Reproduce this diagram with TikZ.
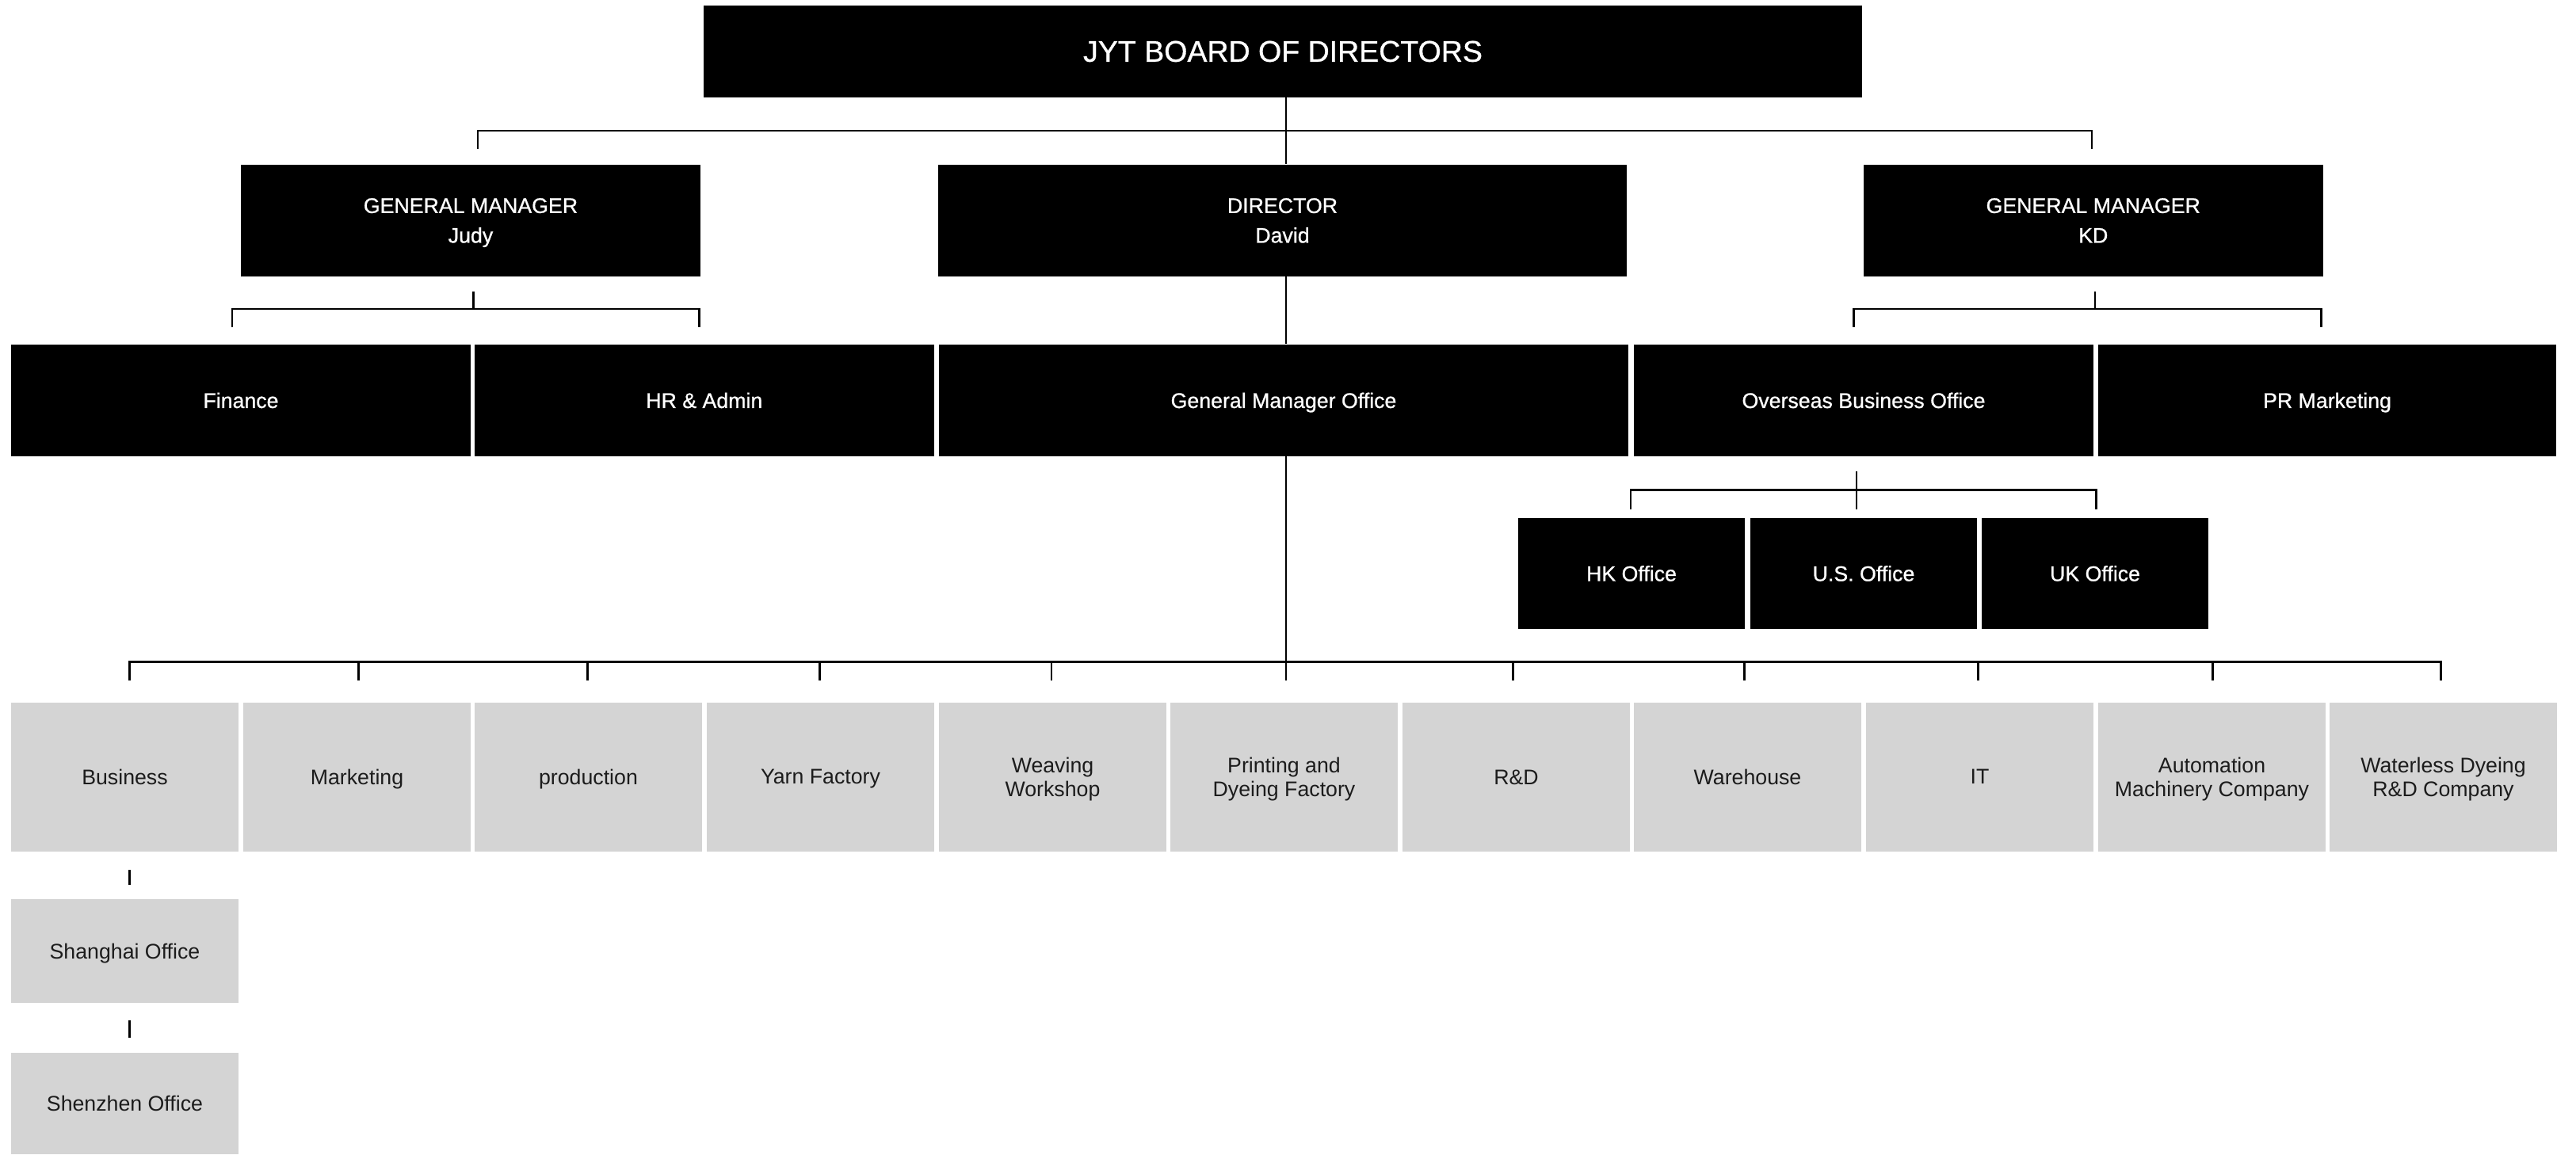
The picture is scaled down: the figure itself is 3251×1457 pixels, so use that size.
\documentclass[tikz,border=0pt]{standalone}
\usepackage{fontspec}
\setmainfont{Liberation Sans}
\newfontfamily\medfont[FakeBold=0.8]{Liberation Sans}
\usetikzlibrary{calc}
\definecolor{boxgray}{RGB}{212,212,212}
\definecolor{txtdark}{RGB}{28,28,28}
\begin{document}
\begin{tikzpicture}[x=0.01cm,y=-0.01cm,
  bx/.style 2 args={draw=none, inner sep=0pt, minimum width=#1*0.01cm, minimum height=#2*0.01cm, align=center, text depth=0pt},
  blk/.style={fill=black, text=white, font=\medfont\fontsize{7.6pt}{10.67pt}\selectfont},
  gry/.style={fill=boxgray, text=txtdark, font=\fontsize{7.6pt}{8.6pt}\selectfont},
  conn/.style={line width=0.78pt, draw=black}]
\useasboundingbox (0,0) rectangle (3251,1457);

% ---- top
\node[blk, bx={1462}{115.5}, font=\medfont\fontsize{10.67pt}{12pt}\selectfont] (board) at (1619,64.75) {JYT BOARD OF DIRECTORS};

% ---- managers
\node[blk, bx={580}{140.6}] (gmj) at (594,278.3) {GENERAL MANAGER\\Judy};
\node[blk, bx={869}{140.6}] (dir) at (1618.5,278.3) {DIRECTOR\\David};
\node[blk, bx={579.5}{140.6}] (gmk) at (2641.75,278.3) {GENERAL MANAGER\\KD};

% ---- departments
\node[blk, bx={580}{140.6}] (fin) at (304,505.3) {Finance};
\node[blk, bx={579.6}{140.6}] (hr) at (888.8,505.3) {HR \& Admin};
\node[blk, bx={870}{140.6}] (gmo) at (1620,505.3) {General Manager Office};
\node[blk, bx={580}{140.6}] (ovs) at (2352,505.3) {Overseas Business Office};
\node[blk, bx={578}{140.6}] (pr) at (2937,505.3) {PR Marketing};

% ---- overseas offices
\node[blk, bx={286}{139.6}] (hk) at (2059,723.8) {HK Office};
\node[blk, bx={286}{139.6}] (us) at (2352,723.8) {U.S. Office};
\node[blk, bx={286}{139.6}] (uk) at (2644,723.8) {UK Office};

% ---- grey row
\node[gry, bx={287}{187.5}] (g1) at (157.5,980.75) {Business};
\node[gry, bx={287}{187.5}] (g2) at (450.5,980.75) {Marketing};
\node[gry, bx={287}{187.5}] (g3) at (742.5,980.75) {production};
\node[gry, bx={287}{187.5}] (g4) at (1035.5,980.75) {Yarn Factory};
\node[gry, bx={287}{187.5}] (g5) at (1328.5,980.75) {Weaving\\Workshop};
\node[gry, bx={287}{187.5}] (g6) at (1620.5,980.75) {Printing and\\Dyeing Factory};
\node[gry, bx={287}{187.5}] (g7) at (1913.5,980.75) {R\&D};
\node[gry, bx={287}{187.5}] (g8) at (2205.5,980.75) {Warehouse};
\node[gry, bx={287}{187.5}] (g9) at (2498.5,980.75) {IT};
\node[gry, bx={287}{187.5}] (g10) at (2791.5,980.75) {Automation\\Machinery Company};
\node[gry, bx={287}{187.5}] (g11) at (3083.5,980.75) {Waterless Dyeing\\R\&D Company};

\node[gry, bx={287}{131}] (sh) at (157.5,1200.5) {Shanghai Office};
\node[gry, bx={287}{128}] (sz) at (157.5,1393) {Shenzhen Office};

% ---- helper coordinates
\coordinate (mx) at (1623,0);
\coordinate (bus1) at (0,165);
\coordinate (bus2) at (0,390);
\coordinate (bus3) at (0,618.7);
\coordinate (bus4) at (0,835.7);

% board -> managers
\draw[conn] (board.south -| mx) -- (dir.north -| mx);
\coordinate (t1) at (603,188);
\coordinate (t2) at (2640,188);
\draw[conn] (t1) -- (t1 |- bus1) -- (t2 |- bus1) -- (t2);

% Judy -> Finance, HR
\coordinate (js) at (597.7,368);
\coordinate (jf) at (293,413);
\coordinate (jh) at (882.5,413);
\draw[conn] (js) -- (js |- bus2);
\draw[conn] (jf) -- (jf |- bus2) -- (jh |- bus2) -- (jh);

% KD -> Overseas, PR
\coordinate (ks) at (2644,368);
\coordinate (ko) at (2339.6,413);
\coordinate (kp) at (2929.4,413);
\draw[conn] (ks) -- (ks |- bus2);
\draw[conn] (ko) -- (ko |- bus2) -- (kp |- bus2) -- (kp);

% Director -> GM Office
\draw[conn] (dir.south -| mx) -- (gmo.north -| mx);

% Overseas -> offices
\coordinate (os1) at (2343,594.7);
\coordinate (os2) at (2343,642.7);
\coordinate (oh) at (2058,642.7);
\coordinate (ou) at (2645.6,642.7);
\draw[conn] (os1) -- (os2);
\draw[conn] (oh) -- (oh |- bus3) -- (ou |- bus3) -- (ou);

% GM Office -> grey row
\coordinate (gt6) at (1623,859);
\draw[conn] (gmo.south -| mx) -- (gt6);
\coordinate (gt1) at (163.5,859);
\coordinate (gt11) at (3080.8,859);
\draw[conn] (gt1) -- (gt1 |- bus4) -- (gt11 |- bus4) -- (gt11);
\foreach \xx in {452.3,741.5,1034.3,1327,1909.6,2201.5,2496.8,2792.5}{
  \draw[conn] (\xx,835.7) -- (\xx,859);
}

% Business -> Shanghai -> Shenzhen
\coordinate (b1) at (163.3,1098);
\coordinate (b2) at (163.3,1116.7);
\coordinate (b3) at (163.3,1287.5);
\coordinate (b4) at (163.3,1310);
\draw[conn] (b1) -- (b2);
\draw[conn] (b3) -- (b4);
\end{tikzpicture}
\end{document}
